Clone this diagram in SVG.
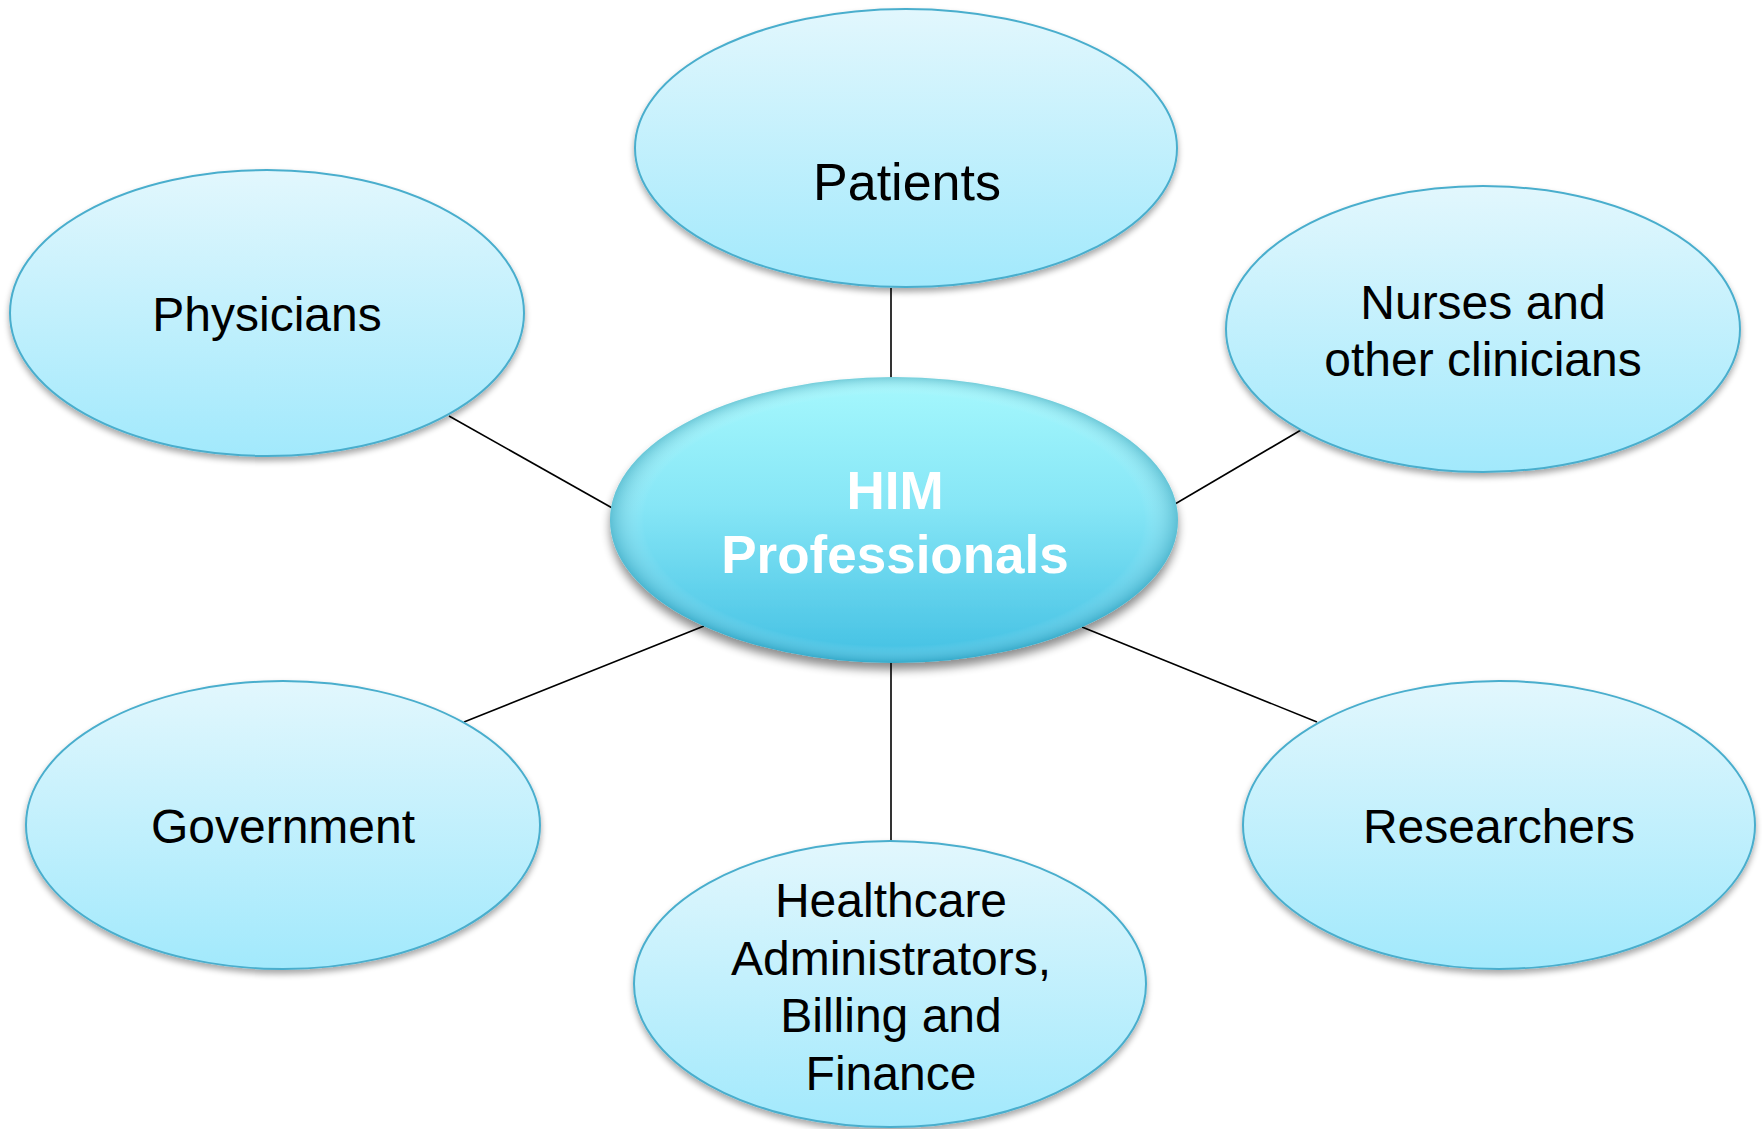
<svg xmlns="http://www.w3.org/2000/svg" width="1762" height="1129" viewBox="0 0 1762 1129">
<defs>
<linearGradient id="gOuter" x1="0" y1="0" x2="0" y2="1">
<stop offset="0" stop-color="#e2f7fd"/>
<stop offset="1" stop-color="#a2e9fc"/>
</linearGradient>
<linearGradient id="gCenter" x1="0" y1="0" x2="0" y2="1">
<stop offset="0" stop-color="#a6f8fd"/>
<stop offset="0.45" stop-color="#86e6f6"/>
<stop offset="1" stop-color="#42c0e3"/>
</linearGradient>
<radialGradient id="gBevel" cx="0.5" cy="0.5" r="0.5">
<stop offset="0.88" stop-color="#ffffff" stop-opacity="0"/>
<stop offset="1" stop-color="#1a7e99" stop-opacity="0.35"/>
</radialGradient>
<filter id="shadow" x="-10%" y="-10%" width="120%" height="130%">
<feGaussianBlur in="SourceAlpha" stdDeviation="3"/>
<feOffset dx="0" dy="4" result="b"/>
<feComponentTransfer><feFuncA type="linear" slope="0.35"/></feComponentTransfer>
<feMerge><feMergeNode/><feMergeNode in="SourceGraphic"/></feMerge>
</filter>
<filter id="shadow2" x="-10%" y="-10%" width="120%" height="130%">
<feGaussianBlur in="SourceAlpha" stdDeviation="5"/>
<feOffset dx="0" dy="7" result="b"/>
<feComponentTransfer><feFuncA type="linear" slope="0.45"/></feComponentTransfer>
<feMerge><feMergeNode/><feMergeNode in="SourceGraphic"/></feMerge>
</filter>
</defs>
<style>
.outer{fill:url(#gOuter);stroke:#4aaecd;stroke-width:2;filter:url(#shadow)}
.lbl{font-family:"Liberation Sans",Arial,sans-serif;font-size:48px;fill:#000;text-anchor:middle}
.conn line{stroke:#000;stroke-width:1.6}
</style>
<rect width="1762" height="1129" fill="#ffffff"/>
<g class="conn" id="connectors">
<line x1="891" y1="288" x2="891" y2="378"/>
<line x1="449" y1="416" x2="614" y2="509"/>
<line x1="1301" y1="430" x2="1175" y2="504"/>
<line x1="464" y1="722" x2="704" y2="626"/>
<line x1="1317" y1="722" x2="1082" y2="627"/>
<line x1="891" y1="841" x2="891" y2="662"/>
</g>
<g id="patients">
<ellipse class="outer" cx="906" cy="148" rx="271" ry="139"/>
<text class="lbl" x="907" y="200" style="font-size:52px">Patients</text>
</g>
<g id="physicians">
<ellipse class="outer" cx="267" cy="313" rx="257" ry="143"/>
<text class="lbl" x="267" y="331">Physicians</text>
</g>
<g id="nurses">
<ellipse class="outer" cx="1483" cy="329" rx="257" ry="143"/>
<text class="lbl" x="1483" y="319">Nurses and</text>
<text class="lbl" x="1483" y="376">other clinicians</text>
</g>
<g id="government">
<ellipse class="outer" cx="283" cy="825" rx="257" ry="144"/>
<text class="lbl" x="283" y="843">Government</text>
</g>
<g id="researchers">
<ellipse class="outer" cx="1499" cy="825" rx="256" ry="144"/>
<text class="lbl" x="1499" y="843">Researchers</text>
</g>
<g id="healthcare">
<ellipse class="outer" cx="890" cy="984" rx="256" ry="143"/>
<text class="lbl" x="891" y="917">Healthcare</text>
<text class="lbl" x="891" y="975">Administrators,</text>
<text class="lbl" x="891" y="1032">Billing and</text>
<text class="lbl" x="891" y="1090">Finance</text>
</g>
<g id="him">
<ellipse cx="894" cy="520" rx="284" ry="143" fill="url(#gCenter)" filter="url(#shadow2)"/>
<ellipse cx="894" cy="520" rx="284" ry="143" fill="url(#gBevel)"/>
<text x="895" y="509" font-family="Liberation Sans,Arial,sans-serif" font-size="53" font-weight="bold" fill="#ffffff" text-anchor="middle">HIM</text>
<text x="895" y="573" font-family="Liberation Sans,Arial,sans-serif" font-size="53" font-weight="bold" fill="#ffffff" text-anchor="middle">Professionals</text>
</g>
</svg>
